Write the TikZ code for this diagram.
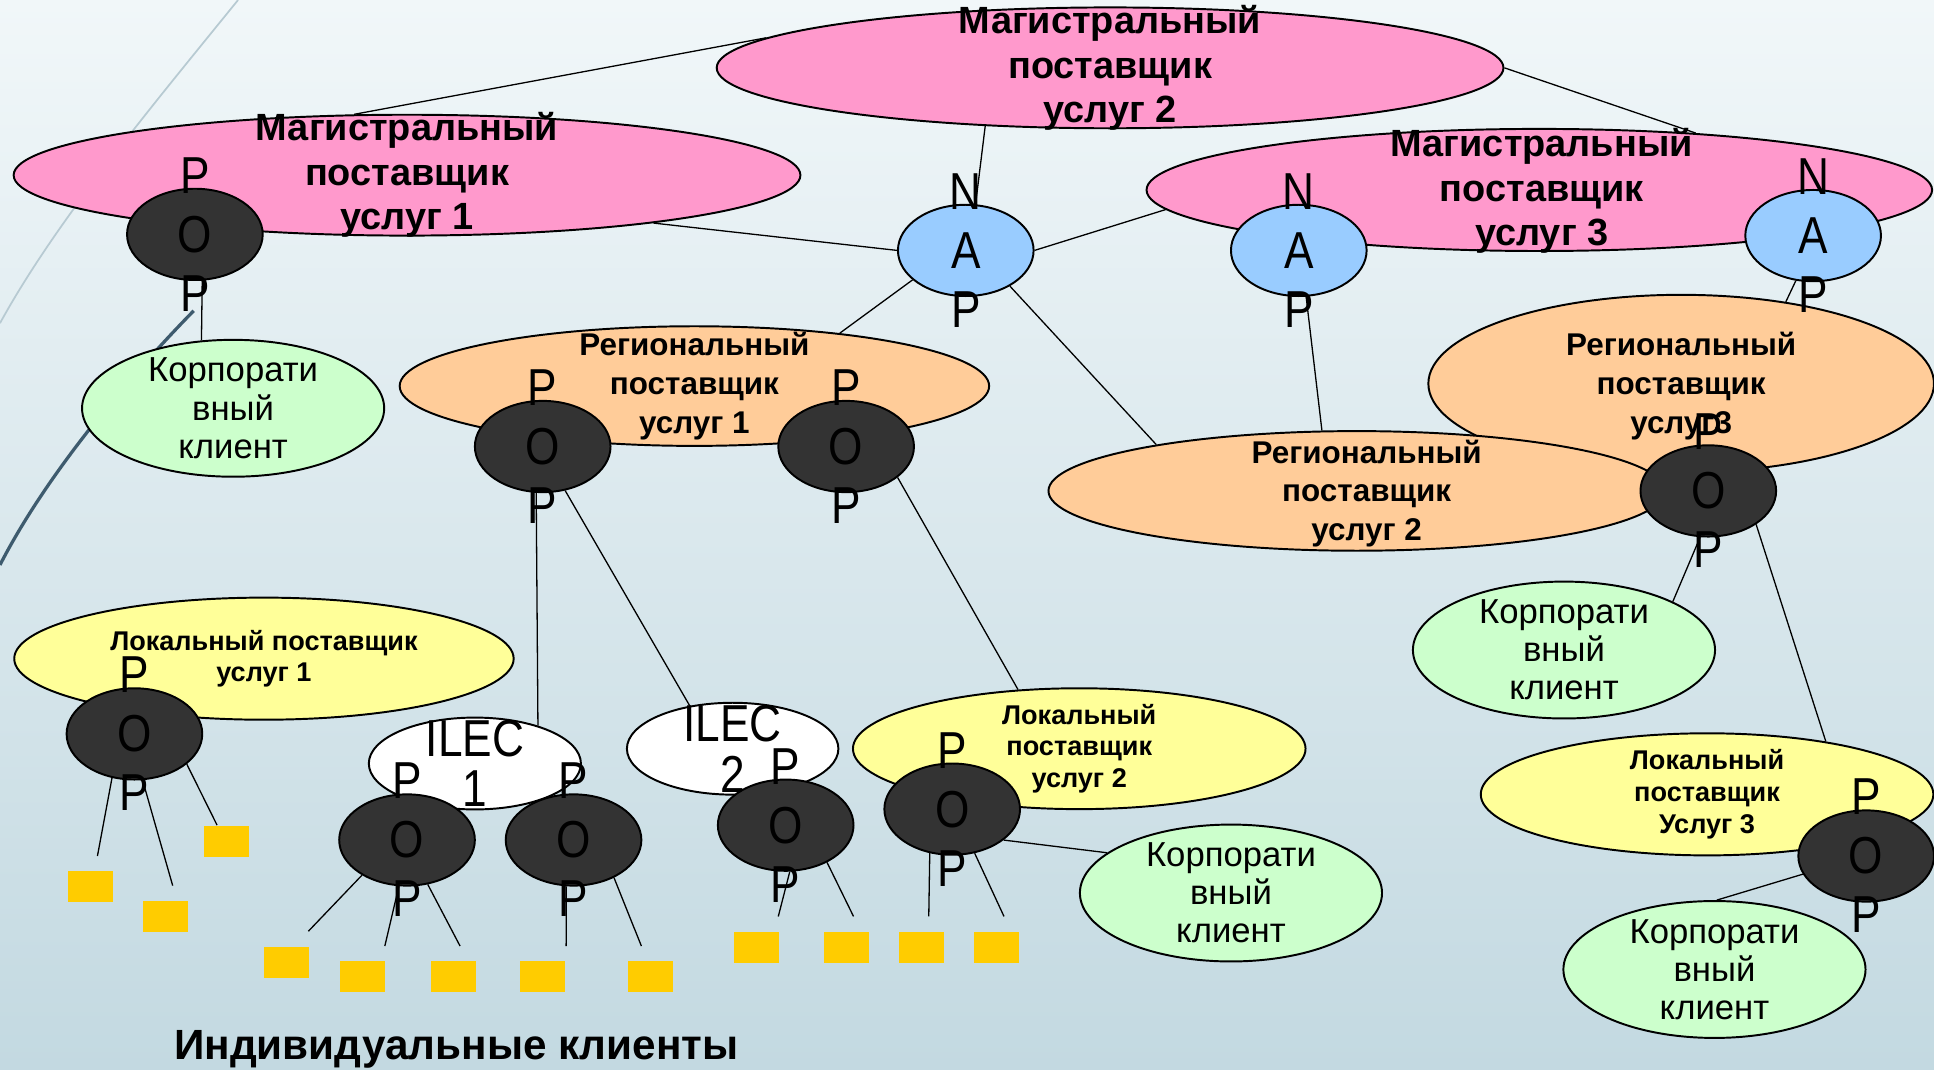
\documentclass[tikz,border=0pt]{standalone}
\usepackage{fontspec}
\setmainfont{Liberation Sans}
\newfontfamily\letterfont{Liberation Sans}[FakeStretch=0.85]
\usetikzlibrary{shapes.geometric}
\usetikzlibrary{positioning}
\usetikzlibrary{math}

\definecolor{magpink}{HTML}{FF99CC}
\definecolor{napblue}{HTML}{99CCFF}
\definecolor{regpeach}{HTML}{FFCC99}
\definecolor{corpgreen}{HTML}{CCFFCC}
\definecolor{locyellow}{HTML}{FFFF99}
\definecolor{popgrey}{HTML}{333333}
\definecolor{clientgold}{HTML}{FFCC00}
\definecolor{bgtop}{HTML}{F1F7F9}
\definecolor{bgbottom}{HTML}{C3D9E1}
\definecolor{arcgrey}{HTML}{B7CAD2}
\definecolor{arcdark}{HTML}{3E5B6E}

% oval with one letter inside and one above and below it
\newcommand{\letterstack}[6]{%
  \node[#1] (#2) at (#3) {#5};
  \node[letter, above=-1mm of #2] (#2-t) {#4};
  \node[letter, below=-1mm of #2] (#2-b) {#6};
}

\begin{document}
\begin{tikzpicture}[x=0.02cm, y=-0.02cm, line width=0.6pt,
  oval/.style 2 args={ellipse, draw, line width=0.9pt, inner sep=0pt,
    minimum width=#1, minimum height=#2},
  popnode/.style={oval={\popw cm}{\poph cm}, fill=popgrey,
    font=\letterfont\fontsize{24}{24}\selectfont},
  napnode/.style={oval={\popw cm}{\poph cm}, fill=napblue,
    font=\letterfont\fontsize{24}{24}\selectfont},
  letter/.style={inner sep=0pt, font=\letterfont\fontsize{24}{24}\selectfont},
  magtxt/.style={align=center, inner sep=0pt, font=\fontsize{17.5}{20.5}\selectfont\bfseries},
  regtxt/.style={align=center, inner sep=0pt, font=\fontsize{14.5}{17.9}\selectfont\bfseries},
  loctxt/.style={align=center, inner sep=0pt, font=\fontsize{12.5}{14.7}\selectfont\bfseries},
  corptxt/.style={align=center, inner sep=0pt, font=\fontsize{16}{17.6}\selectfont},
  ilectxt/.style={align=center, inner sep=0pt, font=\letterfont\fontsize{24}{23.2}\selectfont},
  client/.style={fill=clientgold, minimum width=0.73cm, minimum height=0.5cm, inner sep=0pt},
]

  \tikzmath{
    \popw = 2.2;  % width of the POP and NAP ovals
    \poph = 1.48; % height of the POP and NAP ovals
  }

  \useasboundingbox (0,0) rectangle (1568,867);

  % slide background
  \shade[top color=bgtop, bottom color=bgbottom] (0,0) rectangle (1568,867);
  \draw[arcgrey, line width=0.8pt] (193,0) .. controls (120,90) and (45,180) .. (0,262);
  \draw[arcdark, line width=1.5pt] (157,252) .. controls (110,300) and (40,380) .. (0,458);

  % backbone providers
  \node[oval={12.76cm}{1.96cm}, fill=magpink] (mag1) at (330,142) {};
  \node[magtxt] (mag1-txt) at (mag1) {Магистральный\\поставщик\\услуг 1};
  \node[oval={12.76cm}{1.96cm}, fill=magpink] (mag2) at (900,55) {};
  \node[magtxt] (mag2-txt) at (mag2) {Магистральный\\поставщик\\услуг 2};
  \node[oval={12.74cm}{1.98cm}, fill=magpink] (mag3) at (1248,154) {};
  \node[magtxt] (mag3-txt) at (1250,155) {Магистральный\\поставщик\\услуг 3};

  % regional providers
  \node[oval={9.56cm}{1.94cm}, fill=regpeach] (reg1) at (563,313) {};
  \node[regtxt] (reg1-txt) at (reg1) {Региональный\\поставщик\\услуг 1};
  \node[oval={8.2cm}{2.88cm}, fill=regpeach] (reg3) at (1363,311) {};
  \node[regtxt] (reg3-txt) at (1363,313) {Региональный\\поставщик\\услуг3};
  \node[oval={10cm}{1.94cm}, fill=regpeach] (reg2) at (1100,398) {};
  \node[regtxt] (reg2-txt) at (1108,400) {Региональный\\поставщик\\услуг 2};

  % corporate clients
  \node[oval={4.9cm}{2.22cm}, fill=corpgreen] (corp1) at (189,331) {};
  \node[corptxt] (corp1-txt) at (corp1) {Корпорати\\вный\\клиент};
  \node[oval={4.9cm}{2.22cm}, fill=corpgreen] (corp2) at (1268,527) {};
  \node[corptxt] (corp2-txt) at (corp2) {Корпорати\\вный\\клиент};
  \node[oval={4.9cm}{2.22cm}, fill=corpgreen] (corp3) at (998,724) {};
  \node[corptxt] (corp3-txt) at (corp3) {Корпорати\\вный\\клиент};
  \node[oval={4.9cm}{2.22cm}, fill=corpgreen] (corp4) at (1390,786) {};
  \node[corptxt] (corp4-txt) at (corp4) {Корпорати\\вный\\клиент};

  % local providers and ILECs
  \node[oval={8.1cm}{1.98cm}, fill=locyellow] (loc1) at (214,534) {};
  \node[loctxt] (loc1-txt) at (loc1) {Локальный поставщик\\услуг 1};
  \node[oval={7.34cm}{1.96cm}, fill=locyellow] (loc2) at (875,607) {};
  \node[loctxt] (loc2-txt) at (loc2) {Локальный\\поставщик\\услуг 2};
  \node[oval={7.34cm}{1.98cm}, fill=locyellow] (loc3) at (1384,644) {};
  \node[loctxt] (loc3-txt) at (loc3) {Локальный\\поставщик\\Услуг 3};
  \node[oval={3.44cm}{1.49cm}, fill=white] (ilec1) at (385,619) {};
  \node[ilectxt] (ilec1-txt) at (ilec1) {ILEC\\1};
  \node[oval={3.43cm}{1.49cm}, fill=white] (ilec2) at (594,607) {};
  \node[ilectxt] (ilec2-txt) at (ilec2) {ILEC\\2};

  % NAP and POP points
  \letterstack{napnode}{nap1}{783,203}{N}{A}{P}
  \letterstack{napnode}{nap2}{1053,203}{N}{A}{P}
  \letterstack{napnode}{nap3}{1470,191}{N}{A}{P}
  \letterstack{popnode}{popM1}{158,190}{P}{O}{P}
  \letterstack{popnode}{popR1a}{440,362}{P}{O}{P}
  \letterstack{popnode}{popR1b}{686,362}{P}{O}{P}
  \letterstack{popnode}{popR3}{1385,398}{P}{O}{P}
  \letterstack{popnode}{popL1}{109,595}{P}{O}{P}
  \letterstack{popnode}{popI1a}{330,681}{P}{O}{P}
  \letterstack{popnode}{popI1b}{465,681}{P}{O}{P}
  \letterstack{popnode}{popI2}{637,669}{P}{O}{P}
  \letterstack{popnode}{popL2}{772,656}{P}{O}{P}
  \letterstack{popnode}{popL3}{1513,694}{P}{O}{P}

  % links between providers
  \draw (mag1.131) -- (mag2.175);
  \draw (mag2.205) -- (nap1.78);
  \draw (mag2.east) -- (mag3.20);
  \draw (mag1.-11) -- (nap1.180);
  \draw (nap1.0) -- (mag3.183);
  \draw (nap1.209) -- (reg1.20);
  \draw (nap1.-39) -- (reg2.167);
  \draw (nap2.-81) -- (reg2.120);
  \draw (nap3.-111) -- (reg3.38);
  \draw (popM1.-81) -- (corp1.115);
  \draw (popR1a.-98) -- (ilec1.31);
  \draw (popR1a.-63) -- (ilec2.135);
  \draw (popR1b.-31) -- (loc2.136);
  \draw (popR3.-100) -- (corp2.24);
  \draw (popR3.-35) -- (loc3.24);
  \draw (popL2.-31) -- (corp3.162);
  \draw (popL3.196) -- (corp4.88);

  % individual clients
  \foreach \x/\y [count=\i] in {73/719, 134/743, 184/682, 232/780, 294/792, 368/792,
      440/792, 527/792, 613/768, 686/768, 747/768, 808/768}
    \node[client] (sq\i) at (\x,\y) {};

  \foreach \src/\ang/\x/\y [count=\i] in {popL1/243/79/694, popL1/-80/140/718,
      popL1/-30/176/669, popI1a/218/250/755, popI1a/-100/312/767, popI1a/-65/373/767,
      popI1b/-99/459/767, popI1b/-43/520/767, popI2/-85/631/743, popI2/-42/692/743,
      popL2/243/753/743, popL2/-63/814/743}
  {
    \coordinate (tip\i) at (\x,\y);
    \draw (\src.\ang) -- (tip\i);
  }

  \node[font=\fontsize{19.5}{24}\selectfont\bfseries] (indiv) at (370,851) {Индивидуальные клиенты};

\end{tikzpicture}
\end{document}
